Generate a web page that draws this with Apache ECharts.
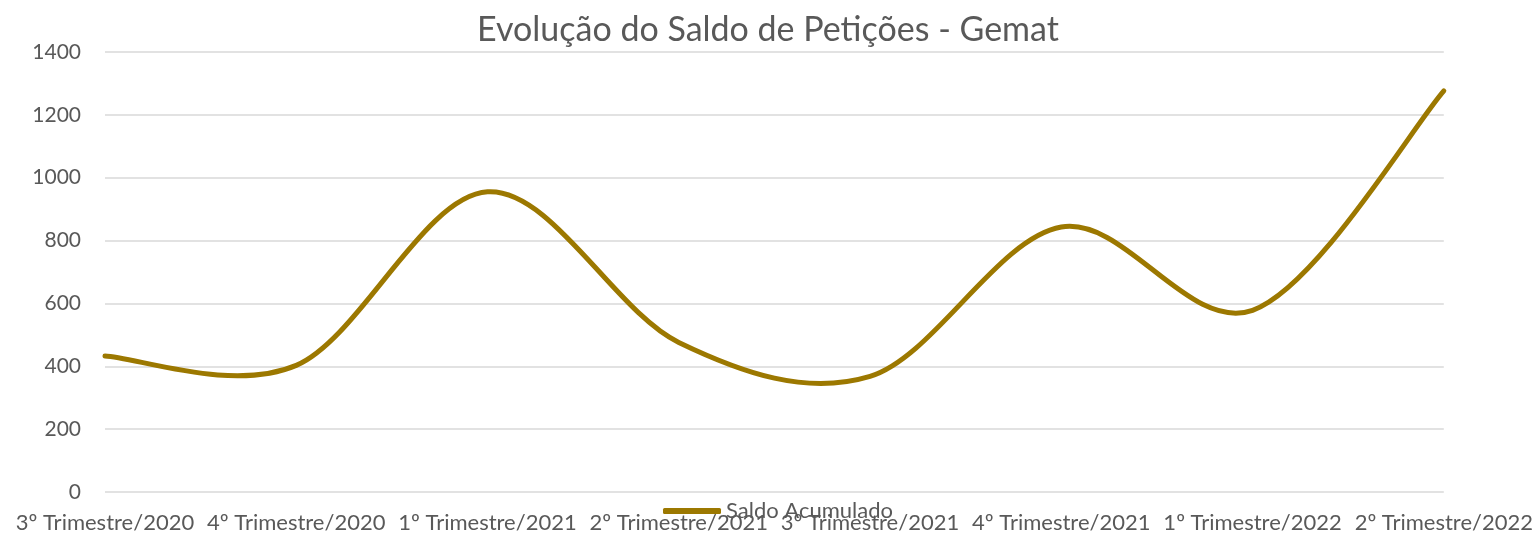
<!DOCTYPE html>
<html>
<head>
<meta charset="utf-8">
<script src="https://cdn.jsdelivr.net/npm/echarts@6/dist/echarts.min.js"></script>
<style>
  html, body { margin: 0; padding: 0; background: #fff; }
  #chart { width: 1536px; height: 534px; }
</style>
</head>
<body>
<div id="chart"></div>
<script>
// dados
const categories = [
  "3º Trimestre/2020", "4º Trimestre/2020", "1º Trimestre/2021", "2º Trimestre/2021",
  "3º Trimestre/2021", "4º Trimestre/2021", "1º Trimestre/2022", "2º Trimestre/2022"
];
const saldoAcumulado = [433, 403, 955, 476, 368, 843, 578, 1276];
const yTicks = [0, 200, 400, 600, 800, 1000, 1200, 1400];

const lineColor = "#9c7800";
const textColor = "#595959";
const fontFamily = "Lato";

// curva suavizada no estilo do Excel (bezier com tangentes (P[i+1]-P[i-1])/6)
function smoothPath(pts) {
  let d = "M" + pts[0][0] + " " + pts[0][1];
  for (let i = 0; i < pts.length - 1; i++) {
    const p0 = pts[i - 1] || pts[i];
    const p1 = pts[i];
    const p2 = pts[i + 1];
    const p3 = pts[i + 2] || pts[i + 1];
    const c1x = p1[0] + (p2[0] - p0[0]) / 6;
    const c1y = p1[1] + (p2[1] - p0[1]) / 6;
    const c2x = p2[0] - (p3[0] - p1[0]) / 6;
    const c2y = p2[1] - (p3[1] - p1[1]) / 6;
    d += " C" + c1x + " " + c1y + " " + c2x + " " + c2y + " " + p2[0] + " " + p2[1];
  }
  return d;
}

const chart = echarts.init(document.getElementById("chart"));

chart.setOption({
  animation: false,
  title: {
    text: "Evolução do Saldo de Petições - Gemat",
    left: "center",
    top: 8,
    textStyle: { color: textColor, fontSize: 34, fontWeight: "normal", fontFamily: fontFamily }
  },
  legend: {
    bottom: 7,
    left: 658,
    itemWidth: 58,
    itemHeight: 6,
    textStyle: { color: textColor, fontSize: 22, fontFamily: fontFamily },
    data: [{ name: "Saldo Acumulado", icon: "roundRect", itemStyle: { color: lineColor } }]
  },
  grid: { left: 105, right: 91, top: 52, bottom: 42, containLabel: false },
  xAxis: {
    type: "category",
    data: categories,
    boundaryGap: false,
    axisLine: { show: false },
    axisTick: { show: false },
    axisLabel: { color: textColor, fontSize: 22, fontFamily: fontFamily, margin: 20, interval: 0 }
  },
  yAxis: {
    type: "value",
    min: yTicks[0],
    max: yTicks[yTicks.length - 1],
    interval: 200,
    axisLine: { show: false },
    axisTick: { show: false },
    splitLine: { lineStyle: { color: "#d9d9d9", width: 1.5 } },
    axisLabel: { color: textColor, fontSize: 21, fontFamily: fontFamily, margin: 24, formatter: (v) => String(v) }
  },
  series: [
    {
      name: "Saldo Acumulado",
      type: "custom",
      data: saldoAcumulado.map((v, i) => [i, v]),
      encode: { x: 0, y: 1 },
      itemStyle: { color: lineColor },
      clip: false,
      renderItem: function (params, api) {
        if (params.dataIndexInside !== 0) return null;
        const pts = [];
        for (let i = 0; i < params.dataInsideLength; i++) {
          pts.push(api.coord([api.value(0, i), api.value(1, i)]));
        }
        return {
          type: "path",
          shape: { pathData: smoothPath(pts) },
          style: { fill: "none", stroke: lineColor, lineWidth: 5, lineCap: "round", lineJoin: "round" }
        };
      }
    }
  ]
});
</script>
</body>
</html>
